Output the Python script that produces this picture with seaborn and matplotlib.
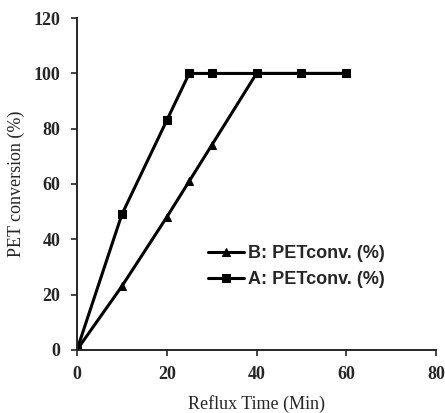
import matplotlib
matplotlib.use('Agg')
import matplotlib.pyplot as plt
import seaborn as sns
import pandas as pd

time_min = [0, 10, 20, 25, 30, 40, 50, 60]
conv_a = [0, 49, 83, 100, 100, 100, 100, 100]
conv_b = [0, 23, 48, 61, 74, 100, 100, 100]
labels = ['B: PETconv. (%)', 'A: PETconv. (%)']
x_ticks = [0, 20, 40, 60, 80]
y_ticks = [0, 20, 40, 60, 80, 100, 120]

df = pd.DataFrame({
    'time': time_min * 2,
    'conv': conv_b + conv_a,
    'series': [labels[0]] * len(time_min) + [labels[1]] * len(time_min),
})

sns.set_style('ticks')
plt.rcParams['font.family'] = ['Liberation Serif', 'DejaVu Serif']

fig = plt.figure(figsize=(4.45, 4.13), dpi=100)
ax = fig.add_axes([0.173, 0.153, 0.807, 0.803])

sns.lineplot(data=df, x='time', y='conv', hue='series', style='series',
             hue_order=labels, style_order=labels,
             palette=['black', 'black'], markers=['^', 's'], dashes=False,
             markersize=5.5, linewidth=2.2, markeredgecolor='black',
             ax=ax, legend=True)

ax.set_xlim(0, 80)
ax.set_ylim(0, 120)
ax.set_xticks(x_ticks)
ax.set_yticks(y_ticks)
ax.tick_params(axis='both', direction='out', length=4, width=1.2, labelsize=13, pad=8)
for lab in ax.get_xticklabels() + ax.get_yticklabels():
    lab.set_fontweight('bold')
ax.spines['top'].set_visible(False)
ax.spines['right'].set_visible(False)
ax.spines['left'].set_linewidth(1.4)
ax.spines['bottom'].set_linewidth(1.4)
ax.set_xlabel('Reflux Time (Min)', fontsize=13, labelpad=8)
ax.set_ylabel('PET conversion (%)', fontsize=13, labelpad=6)

leg = ax.legend(loc='upper left', bbox_to_anchor=(0.32, 0.365), frameon=False,
                handlelength=2.0, handletextpad=0.2, labelspacing=0.5,
                prop={'family': 'Liberation Sans', 'weight': 'bold', 'size': 13})

fig.savefig('out.png', dpi=100)
